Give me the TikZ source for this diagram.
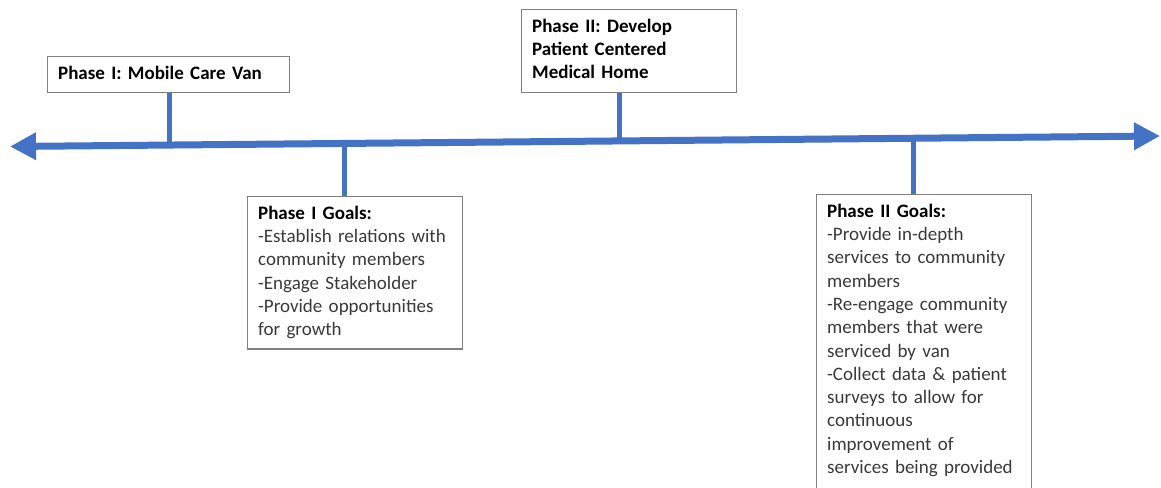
\documentclass[tikz,border=0pt]{standalone}
\usepackage{fontspec}
\setmainfont{Carlito}
\usetikzlibrary{arrows.meta,calc}
\definecolor{axisblue}{HTML}{4472C4}
\definecolor{boxgray}{HTML}{808080}
\definecolor{bodygray}{HTML}{3A3A3A}
\tikzset{
  phasebox/.style={draw=boxgray, line width=1.3pt, fill=white, anchor=north west,
    inner xsep=10.5pt, inner ysep=6.3pt, align=left, text=bodygray,
    font=\fontsize{19}{23.3}\selectfont,
    execute at begin node=\strut, execute at end node=\strut},
  axisline/.style={draw=axisblue, line width=7pt,
    {Triangle[length=26pt,width=26pt]}-{Triangle[length=26pt,width=26pt]}},
  conn/.style={draw=axisblue, line width=5pt}
}
\newcommand{\hd}[1]{\textcolor{black}{\textbf{#1}}}
\begin{document}
\begin{tikzpicture}[x=1pt,y=-1pt]
\useasboundingbox (0,0) rectangle (1161,487);
\clip (0,0) rectangle (1161,487);
\coordinate (L) at (10,146.5);
\coordinate (R) at (1160,136);
% boxes
\node[phasebox, text width=221pt] (p1) at (47,56) {\hd{Phase I: Mobile Care Van}};
\node[phasebox, text width=194pt] (p2) at (521,9) {\hd{Phase II: Develop}\\\hd{Patient Centered}\\\hd{Medical Home}};
\node[phasebox, text width=194pt] (g1) at (247,196) {\hd{Phase I Goals:}\\-Establish relations with\\community members\\-Engage Stakeholder\\-Provide opportunities\\for growth};
\node[phasebox, text width=194pt] (g2) at (816,194) {\hd{Phase II Goals:}\\-Provide in-depth\\services to community\\members\\-Re-engage community\\members that were\\serviced by van\\-Collect data \& patient\\surveys to allow for\\continuous\\improvement of\\services being provided\\\phantom{x}};
% axis points
\coordinate (a1) at ($(L)!{(169-10)/1150}!(R)$);
\coordinate (a2) at ($(L)!{(345-10)/1150}!(R)$);
\coordinate (a3) at ($(L)!{(620-10)/1150}!(R)$);
\coordinate (a4) at ($(L)!{(914-10)/1150}!(R)$);
% connectors
\draw[conn] (a1) -- (a1 |- p1.south);
\draw[conn] (a2) -- (a2 |- g1.north);
\draw[conn] (a3) -- (a3 |- p2.south);
\draw[conn] (a4) -- (a4 |- g2.north);
% axis
\draw[axisline] (L) -- (R);
\end{tikzpicture}
\end{document}
